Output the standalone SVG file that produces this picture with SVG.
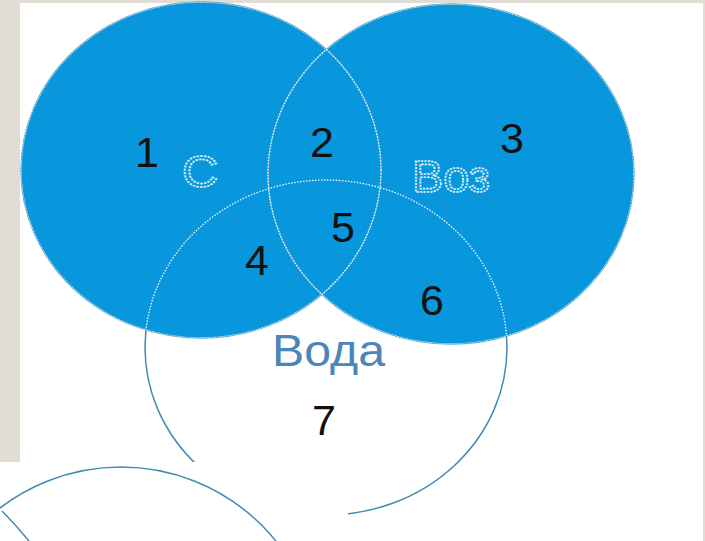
<svg xmlns="http://www.w3.org/2000/svg" width="705" height="541" viewBox="0 0 705 541">
  <style>
    .num { font-family: "Liberation Sans", "DejaVu Sans", sans-serif; font-size: 43px; fill: #111111; text-anchor: middle; }
    .hollow { font-family: "Liberation Sans", "DejaVu Sans", sans-serif; font-size: 44px; fill: #0b98dc; stroke: #e4f6fd; stroke-width: 1.6; stroke-dasharray: 2 1.2; }
    .blue { fill: #0897dc; }
    .edge { fill: none; stroke: #5da9cf; stroke-width: 1.4; }
    .dash { fill: none; stroke: #e2f5fd; stroke-width: 1.3; stroke-dasharray: 1.6 1.4; }
    .teal { fill: none; stroke: #3f8cb3; stroke-width: 1.5; }
  </style>
  <defs>
    <clipPath id="blueArea">
      <ellipse cx="201" cy="170" rx="180" ry="168"/>
      <ellipse cx="451" cy="174" rx="183" ry="170"/>
    </clipPath>
    <clipPath id="insetClip">
      <rect x="0" y="462" width="348" height="79"/>
    </clipPath>
  </defs>

  <!-- backgrounds -->
  <rect x="0" y="0" width="705" height="541" fill="#e2ddd4"/>
  <rect x="20" y="3" width="683" height="538" fill="#ffffff"/>

  <!-- Water circle outline (outside blue area) -->
  <g id="node-voda-outline">
    <ellipse class="teal" cx="326" cy="347.5" rx="181" ry="167.5"/>
  </g>

  <!-- Blue circles -->
  <g id="node-c">
    <ellipse class="blue" cx="201" cy="170" rx="180" ry="168"/>
  </g>
  <g id="node-voz">
    <ellipse class="blue" cx="451" cy="174" rx="183" ry="170"/>
  </g>

  <!-- Outlines -->
  <g id="connectors">
    <ellipse class="edge" cx="201" cy="170" rx="180" ry="168"/>
    <ellipse class="edge" cx="451" cy="174" rx="183" ry="170"/>
    <g clip-path="url(#blueArea)">
      <ellipse class="dash" cx="201" cy="170" rx="180" ry="168"/>
      <ellipse class="dash" cx="451" cy="174" rx="183" ry="170"/>
      <ellipse class="dash" cx="326" cy="347.5" rx="181" ry="167.5"/>
    </g>
  </g>

  <!-- Labels -->
  <g id="labels">
    <text class="num" x="147" y="167">1</text>
    <text class="hollow" x="182" y="187" font-size="48" textLength="36" lengthAdjust="spacingAndGlyphs">С</text>
    <text class="num" x="322" y="157">2</text>
    <text class="num" x="512" y="153">3</text>
    <text class="hollow" x="412" y="192" textLength="78" lengthAdjust="spacingAndGlyphs">Воз</text>
    <text class="num" x="343" y="242">5</text>
    <text class="num" x="257" y="275">4</text>
    <text class="num" x="432" y="315">6</text>
    <text x="272" y="366" font-family="'Liberation Sans', 'DejaVu Sans', sans-serif" font-size="44" fill="#4a86b8" textLength="113" lengthAdjust="spacingAndGlyphs">Вода</text>
    <text class="num" x="324" y="435">7</text>
  </g>

  <!-- Inset at bottom left -->
  <g id="inset">
    <rect x="0" y="462" width="348" height="79" fill="#ffffff"/>
    <g clip-path="url(#insetClip)">
      <circle class="teal" cx="121" cy="666" r="199"/>
      <path class="teal" d="M 2 511 Q 16 525 29 541"/>
    </g>
  </g>
</svg>
